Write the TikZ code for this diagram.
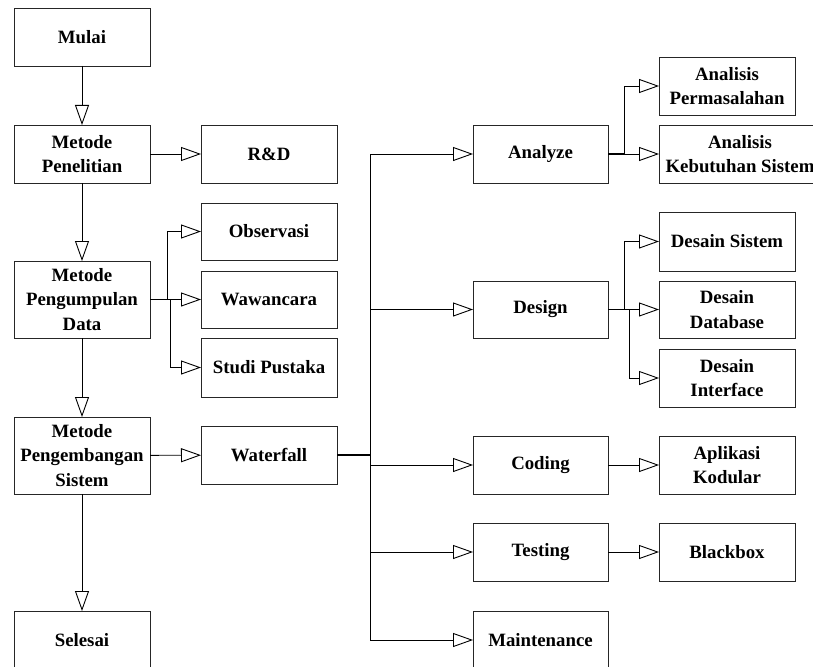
\documentclass[tikz,border=0pt]{standalone}
\usepackage{fontspec}
\setmainfont{Liberation Serif}
\usetikzlibrary{arrows.meta}
\begin{document}
\begin{tikzpicture}[x=1pt,y=-1pt,
  box/.style={draw=black!85, line width=0.8pt, rectangle, inner sep=0pt, outer sep=0pt,
    minimum width=136pt, minimum height=58pt, align=center,
    font=\fontsize{18.8}{24.5}\selectfont\bfseries},
  arr/.style={draw=black, line width=0.9pt, -{Triangle[open, length=20pt, width=14pt, fill=white]}},
  thk/.style={draw=black, line width=1.8pt}]
\useasboundingbox (0,0) rectangle (813,666);
% column 1
\node[box] (mulai) at (82,37) {Mulai};
\node[box] (mp) at (82,154) {Metode\\Penelitian};
\node[box, minimum height=77pt] (mpd) at (82,299.5) {Metode\\Pengumpulan\\Data};
\node[box, minimum height=77pt] (mps) at (82,455.5) {Metode\\Pengembangan\\Sistem};
\node[box] (sel) at (82,640) {Selesai};
% column 2
\node[box] (rd) at (269,154) {R\&D};
\node[box, minimum height=57pt] (obs) at (269,231.5) {Observasi};
\node[box, minimum height=57pt] (waw) at (269,299.5) {Wawancara};
\node[box, minimum height=59pt] (stu) at (269,367.5) {Studi Pustaka};
\node[box] (wf) at (269,455) {Waterfall};
% column 3
\node[box, minimum width=135pt] (an) at (540.5,154) {Analyze};
\node[box, minimum width=135pt, minimum height=57pt] (de) at (540.5,309.5) {Design};
\node[box, minimum width=135pt] (co) at (540.5,465) {Coding};
\node[box, minimum width=135pt] (te) at (540.5,552) {Testing};
\node[box, minimum width=135pt] (ma) at (540.5,640) {Maintenance};
% column 4
\node[box] (ap) at (727,86) {Analisis\\Permasalahan};
\node[box, minimum width=162pt] (ak) at (740,154) {Analisis\\Kebutuhan Sistem};
\node[box, minimum height=59pt] (ds) at (727,241.5) {Desain Sistem};
\node[box, minimum height=57pt] (db) at (727,309.5) {Desain\\Database};
\node[box] (di) at (727,378) {Desain\\Interface};
\node[box] (ka) at (727,465) {Aplikasi\\Kodular};
\node[box] (bb) at (727,552) {Blackbox};
% main flow
\draw[arr] (mulai) -- (mp);
\draw[arr] (mp) -- (mpd);
\draw[arr] (mpd) -- (mps);
\draw[arr] (mps) -- (sel);
\draw[arr] (mp) -- (rd);
\draw[arr] (mps) -- (wf);
% data collection
\draw[arr] (mpd.east) -- ++(17,0) |- (obs.west);
\draw[arr] (mpd.east) -- (waw.west);
\draw[arr] (mpd.east) -- ++(20,0) |- (stu.west);
\draw[thk] (mpd.east) -- ++(20,0);
% waterfall
\draw[arr] (wf.east) -- ++(33,0) |- (an.west);
\draw[arr] (wf.east) -- ++(33,0) |- (de.west);
\draw[arr] (wf.east) -- ++(33,0) |- (co.west);
\draw[arr] (wf.east) -- ++(33,0) |- (te.west);
\draw[arr] (wf.east) -- ++(33,0) |- (ma.west);
\draw[thk] (wf.east) -- ++(33,0);
% analyze
\draw[arr] (an.east) -- ++(16,0) |- (ap.west);
\draw[arr] (an.east) -- (an.east -| ak.west);
\draw[thk] (an.east) -- ++(16,0);
% design
\draw[arr] (de.east) -- ++(16,0) |- (ds.west);
\draw[arr] (de.east) -- (db.west);
\draw[arr] (de.east) -- ++(21,0) |- (di.west);
\draw[thk] (de.east) -- ++(21,0);
% coding, testing
\draw[arr] (co) -- (ka);
\draw[arr] (te) -- (bb);
\end{tikzpicture}
\end{document}
